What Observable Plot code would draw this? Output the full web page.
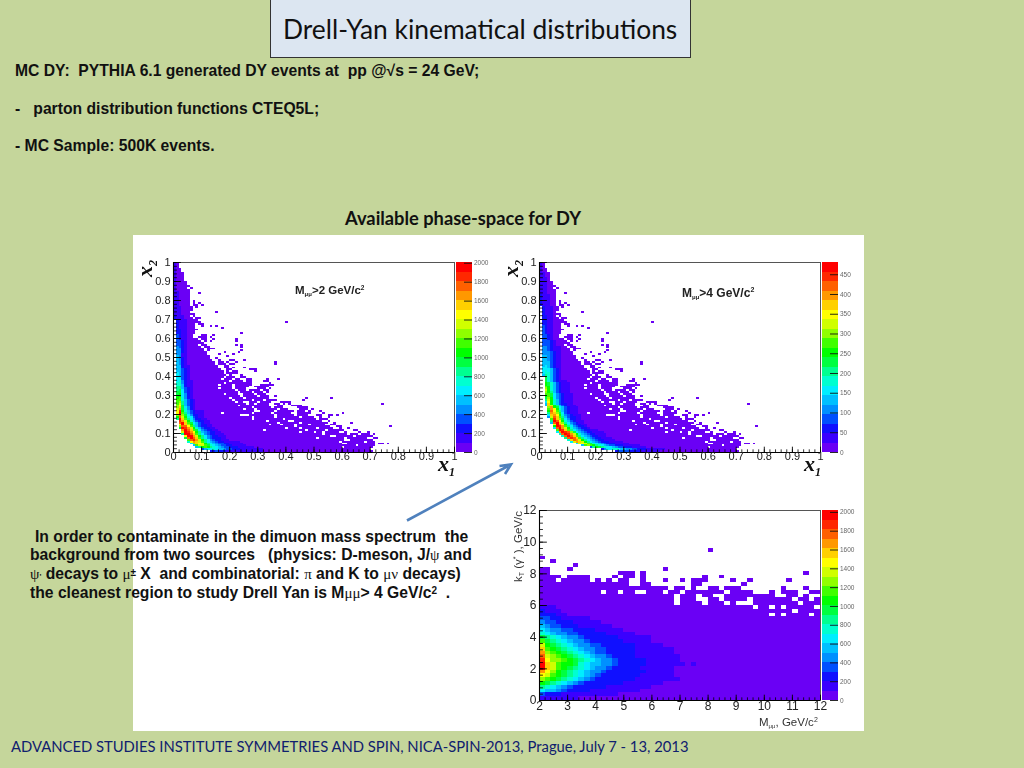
<!DOCTYPE html>
<html><head><meta charset="utf-8">
<script src="https://cdn.jsdelivr.net/npm/d3@7"></script>
<script src="https://cdn.jsdelivr.net/npm/@observablehq/plot@0.6"></script>
<style>
html,body{margin:0;padding:0;background:#c5d69b;}
#page{position:relative;width:1024px;height:768px;overflow:hidden;background:#c5d69b;}
.abs{position:absolute;white-space:pre;}
.b{font:bold 15.7px "Liberation Sans",Arial,sans-serif;color:#111;}
.g{font-family:"Liberation Serif",serif;font-weight:normal;font-size:15px;color:#111;}
#panel{position:absolute;left:133px;top:235px;width:731px;height:496px;background:#fff;}
.plot{position:absolute;filter:blur(.35px);}
.ax{position:absolute;white-space:pre;font-family:"Liberation Sans",Arial,sans-serif;filter:blur(.3px);}
.xv{font:italic bold 22px "Liberation Serif",serif;color:#111;}
.xv sub{font-size:12px;vertical-align:-5px;line-height:0;}
</style></head><body><div id="page">
<div id="panel"></div>
</div>
<script>
// ---- data: colour levels -------------------------------------------------
const paletteColors = ["#6a00f5","#3a00ff","#1010ff","#0050ff","#0090ff","#00c0ff","#00eeff","#00ffd0","#00ff90","#00ff40","#00ff00","#40ff00","#90ff00","#d0ff00","#ffff00","#ffd000","#ff9800","#ff6000","#ff2800","#ff0000"];
const levelIds = paletteColors.map((_, i) => i);
const barTicksA = [0,200,400,600,800,1000,1200,1400,1600,1800,2000];
const barTicksB = [0,50,100,150,200,250,300,350,400,450];
const unitTicks = [0,0.1,0.2,0.3,0.4,0.5,0.6,0.7,0.8,0.9,1];
const massTicks = [2,3,4,5,6,7,8,9,10,11,12];
const ktTicks = [0,2,4,6,8,10,12];

// occupied x1 bins for each x2 bin, row 99 (top) down to row 0
const occupiedX = ["0-1","0-1","0-1","0-2","0-2","0-3","0-3","0-3","0-3","0-3","0-4","0-4","0-5","0-4 6","0-5","0-5","0-5 9","0-5","0-5","0-5",
"0-5 7","0-5 7 9","0-5 7-8 10","0-6 8","0-6","0-6","0-5 15","0-7","0-5 7","0-6 8-9","0-8","0-9 40","0-7 9-10","0-7 10 13 15","0-7 17","0-8","0-7","0-7 24","0-6 10-11 14","0-6 9-11 13",
"0-8 10-11 14 22","0-9 11 13 22","0-10","0-8 10-11 22 24","0-9 11-12 24","0-10 12 13-14","0-10 12 24","0-11 18 23","0-11 16 21","0-12 19","0-12 15","0-13 16 20-21 25","0-14 16-17 19 22 36","0-14 16-18 20-21 36","0-15 18-19","0-15 18-19 21 25","0-16 19-20 27-29","0-17 19 21-22 29","0-17 19-22","0-18 20 24",
"0-17 19-21 24-25","0-16 18-20 22-23 26-27 33 37","0-18 19 21-24 26-27 32-33","0-17 19-25 26-27 34","0-15 17-20 22-27 31-35","0-20 22-26 29-33","0-15 17-20 22-25 30-32 34","0-21 23-25 27-30 32-33","0-22 24-27 29-31 33","0-17 19-22 25-28 30-32",
"0-23 25-29 31-33 36","0-19 21-24 26-30 31-33 47 56","0-20 22-27 29-31 33-36 46","0-21 23-24 27-29 31-34 38-41","0-25 27-28 30-33 36-37 39 41 74","0-22 24-26 27-30 31-33 37-38 42-45","0-27 29-34 36-38 44-47","0-24 26-28 30-36 38-40 45-47 49","0-28 31-35 37-42 44-46 48 52","0-16 18-27 29-34 36-41 44-48 53 60",
"0-23 27-35 37-42 44-47 51-52 55-56 58","0-27 29-35 37-44 46-49 52 55","0-27 29-38 40-50 52-54","0-32 34-40 43-52 55","0-36 38-44 46-54 57 63","0-33 35-37 39-42 44-47 49-53 56-57","0-42 44-55 58-59 77","0-39 41-44 46-50 52-56 59 62","0-31 33-46 48-53 55-60 64-65","0-44 46-49 51-52 54-58 61 66 69",
"0-52 54-61 63-65 67-69 71","0-55 58-63 65-70","0-50 52-60 62-68 71-72","0-60 63-69 70","0-58 60-67 69-71","0-59 62-71 73-74 76","0-64 66-71","0-59 61-70","0-66 67-69","0-70"];

// colour level per x1 bin, row 0 upward ("." empty, 0-9 a-j; past the end: level 0). M > 2
const levelsM2 = [
".............2232221111111111111",
"..........3566765543322211111111",
"........58aba8765433222111111",
".......5bddb97654332211111",
"......6cfeda8654332211111",
".....7egfdb8654322111111",
".....bhigda864322111",
"....9hjhfb864322211",
"....ejjgda864322111",
"...8jjhfb864322111",
"...djigea85432211",
"...gjhfb96432211",
"..9jigda7532211",
"..chheb8532211",
"..ejfca7532211",
"..hjfb9653211",
"..igda7532211",
".8jfb8642211",
".ahda763211",
".chc9642211",
".ejb8532111",
".eia7532111",".dg97421",".cf96421",".ce95321",".bd85321",".bc85321",".bb75321",".ab7421",".aa6421",
".9a6421",".996321",".896321",".885321",".885211",".775211",".774211",".674211",".66321",".66321",
".65321",".65321",".55321",".55321",".55211",".55211",".5421",".5421",".5421",".5421",
".5411",".4411",".4421",".4421",".4421",".4321",".3321",".3321",".3321",".3211",
".3211",".3211",".2211",".2211",".2211",".2111",".2111",".2111",".2111",".2111",
"2111","2111","111","111","111","111","111","11","11","11",
"11","11","11","11","11","1","1","1","1","1",
"1","1","1","1","1","1","1","1","1","1"];

// M > 4
const levelsM4 = [
"...........................2333322221111111",
"......................24667765544332221111111",
"..................38a98766543322211111",
"...............5bcba8765433222111111",
".............6dedb97654322211111",
"...........6dgfda8654322211111",
"..........7fhgda86543221111",
".........8hihfb86543221111",
"........7hjhfb8654322111",
".......7hjigda7543221111",
"......6gjihc96543221111",
"......bjifb8654322111",
".....6hjgda7543221",
".....ajigb8643221",
".....ejgea7532211",
"....5hjfc8643211",
"....8jhea7532111",
"....bifc9642211",
"...4dhfb8532211",
"...6fgea7432111",
"...8gfc9632111",
"...aheb8532111","...bgea7532111","...cga96532111","..5fda8532111","..5fa7532211","..6ea7532111","..8da7532111","..9ca6432111","..ab96432111",
"..bb96432111","..ca8532111","..da7532111","..ca7532111","..ba7532111","..a97532111","..a97532111","..97532111","..975321","..975321",
".5875321",".6775321",".6765321",".6665321",".6653211",".5653211",".5553211",".5553211",".5543211",".5543211",
".5543211",".4443211",".4443211",".4432111",".4432111",".4432111",".33321",".33321",".33321",".3321",
".3321",".3321",".3211",".3211",".3211",".3211",".3211",".2211",".2211",".2211",
".2211",".2211",".2111",".2111",".2111",".2111",".2111","2111","2111","2111",
"2111","2111","2111","111","111","111","111","111","111","111",
"111","111","11","11","11","1","1","1","1","1"];

// kT vs mass: occupied mass bins, row 39 down to row 22
const occupiedKt = ["30","","0","2","6","0-1 5 22","0-1 14-16 18 47","0-3 5-8 13 15-16 18 29 32","0-2 4-8 10 12 14-15 18 22 25 27-29 34 37 44","0-15 18-19 27-28 36","0-18 19-22 24-25 27 30-31 33-35 43 47","0-10 12-13 15-16 19-21 23-24 26-32 34-37 41 43-45 48-49","0-23 25-27 29-30 33-41 44-45 47","0-23 25-27 30-31 33-36 38-44 46-47 49","0-23 25-28 30-32 34 38-45 47-49","0-37 39-40 42 44-48","0-44 46-49","0-40 42 44-47 49"];
// kT vs mass: colour levels per mass bin, row 0 upward; past the end: level 0
const levelsKt = [
"1111111",
"32221111111111",
"655432222111111111",
"87654322222211111111",
"a987654322222221111111",
"cba9876543222222211111111",
"edba98765432222222111111",
"geca98765443222222211111",
"jfdba9876544322222111111",
"jfdbaa9765544322222111111101",
"ieccba9876544322222111111",
"hdcba98765443222211111111",
"gcba98765433222221111111",
"fba987654433222221111111",
"da98765443322222211111",
"b9876544322222211111",
"98765443222222111111",
"76544332222211111",
"654433222211111",
"5433222111111",
"43322211111",
"332211111",
"22211",
"2111",
"111"];

// ---- decoding ------------------------------------------------------------
const inRuns = (runs, c) => runs.split(" ").filter(Boolean).some(s => {
  const [a, b = a] = s.split("-").map(Number); return c >= a && c <= b;
});
function cellsFrom(levels, occupied, topRow, nCols, x0, dx, dy) {
  const out = [];
  for (let i = topRow; i >= 0; i--) {
    const runs = occupied[topRow - i] ?? null;
    const s = levels[i] ?? "";
    for (let c = 0; c < nCols; c++) {
      if (runs !== null && !inRuns(runs, c)) continue;
      const ch = s[c];
      if (ch === ".") continue;
      out.push({x1: x0 + c * dx, x2: x0 + (c + 1) * dx, y1: i * dy, y2: (i + 1) * dy, level: ch ? parseInt(ch, 36) : 0});
    }
  }
  return out;
}
const colorScale = {type: "ordinal", domain: levelIds, range: paletteColors};
const page = document.getElementById("page");
function place(svg, left, top) {
  svg.classList.add("plot");
  svg.style.left = left + "px"; svg.style.top = top + "px";
  svg.style.position = "absolute";
  page.appendChild(svg);
}
function heat({cells, xDomain, yDomain, xTicks, yTicks, xMinor, yMinor, xLabels, yLabels, left, top, w, h, fs, xLen, yLen, xPad, yPad}) {
  const mL = 30, mR = 6, mT = 8, mB = 24;
  const xSpan = xDomain[1] - xDomain[0], ySpan = yDomain[1] - yDomain[0];
  const svg = Plot.plot({
    width: w + mL + mR, height: h + mT + mB,
    marginLeft: mL, marginRight: mR, marginTop: mT, marginBottom: mB,
    style: {background: "transparent", overflow: "visible", fontFamily: "Liberation Sans, Arial, sans-serif"},
    x: {domain: xDomain}, y: {domain: yDomain}, color: colorScale,
    marks: [
      Plot.rect(cells, {x1: "x1", x2: "x2", y1: "y1", y2: "y2", fill: "level", shapeRendering: "crispEdges"}),
      Plot.frame({stroke: "#555", strokeWidth: 1}),
      Plot.ruleX(xMinor, {y1: yDomain[0], y2: yDomain[0] + ySpan * xLen / 2, stroke: "#000", strokeWidth: .8}),
      Plot.ruleX(xTicks, {y1: yDomain[0], y2: yDomain[0] + ySpan * xLen, stroke: "#000", strokeWidth: .9}),
      Plot.ruleY(yMinor, {x1: xDomain[0], x2: xDomain[0] + xSpan * yLen / 2, stroke: "#000", strokeWidth: .8}),
      Plot.ruleY(yTicks, {x1: xDomain[0], x2: xDomain[0] + xSpan * yLen, stroke: "#000", strokeWidth: .9}),
      Plot.ruleX([xDomain[0]], {stroke: "#000", strokeWidth: 1.1}),
      Plot.ruleY([yDomain[0]], {stroke: "#000", strokeWidth: 1.1}),
      Plot.axisX({ticks: xLabels, tickSize: 0, tickPadding: xPad, fontSize: fs, fill: "#222", label: null, tickFormat: d => String(d)}),
      Plot.axisY({ticks: yLabels, tickSize: 0, tickPadding: yPad, fontSize: fs, fill: "#222", label: null, tickFormat: d => String(d)})
    ]
  });
  place(svg, left - mL, top - mT);
}
function colorBar({top: topEdge, left, h, maxV, ticks}) {
  const step = maxV / 20, w = 16;
  const rows = levelIds.map(i => ({y1: i * step, y2: (i + 1) * step, level: i}));
  const svg = Plot.plot({
    width: w + 24, height: h + 8, marginLeft: 0, marginRight: 24, marginTop: 4, marginBottom: 4,
    style: {background: "transparent", overflow: "visible", fontFamily: "Liberation Sans, Arial, sans-serif"},
    x: {domain: [0, 1]}, y: {domain: [0, maxV]}, color: colorScale,
    marks: [
      Plot.rect(rows, {x1: 0, x2: 1, y1: "y1", y2: "y2", fill: "level", shapeRendering: "crispEdges"}),
      Plot.ruleY(ticks, {x1: 0.5, x2: 1, stroke: "#111", strokeWidth: .9}),
      Plot.axisX({ticks: [], label: null, tickSize: 0}),
      Plot.axisY({anchor: "right", ticks, tickSize: 0, tickPadding: 1.5, fontSize: 6.5, fill: "#666", label: null, tickFormat: d => String(d)})
    ]
  });
  place(svg, left, topEdge - 4);
}
const fineX = d3.range(0, 1.001, 0.02), fineM = d3.range(2, 12.001, 0.2), fineK = d3.range(0, 12.001, 0.4);
const cellsA = cellsFrom(levelsM2, occupiedX, 99, 100, 0, 0.01, 0.01);
const cellsB = cellsFrom(levelsM4, occupiedX, 99, 100, 0, 0.01, 0.01);
const ktCells = cellsFrom(levelsKt, occupiedKt, 39, 50, 2, 0.2, 0.24);
const kBase = {xDomain: [0, 1], yDomain: [0, 1], xTicks: unitTicks, yTicks: unitTicks, xMinor: fineX, yMinor: fineX, xLabels: unitTicks, yLabels: unitTicks, w: 281, h: 190, fs: 11, xLen: 0.028, yLen: 0.028, xPad: 0, yPad: 3};
heat({...kBase, cells: cellsA, left: 173, top: 262});
heat({...kBase, cells: cellsB, left: 539, top: 262});
heat({cells: ktCells, xDomain: [2, 12], yDomain: [0, 12], xTicks: massTicks, yTicks: ktTicks, xMinor: fineM, yMinor: fineK, xLabels: massTicks, yLabels: ktTicks, left: 539, top: 510, w: 281, h: 190, fs: 12, xLen: 0.028, yLen: 0.028, xPad: 1, yPad: 3});
colorBar({top: 262, left: 456, h: 190, maxV: 2008, ticks: barTicksA});
colorBar({top: 262, left: 822, h: 190, maxV: 481, ticks: barTicksB});
colorBar({top: 510, left: 822, h: 190, maxV: 2020, ticks: barTicksA});

// ---- slide text ----------------------------------------------------------
function addHTML(html) { page.insertAdjacentHTML("beforeend", html); }
addHTML(`<div class="abs" style="left:270px;top:-1px;width:419px;height:57px;background:#dce6f1;border:1px solid #333;box-sizing:content-box;"></div>
<div class="abs" style="left:283px;top:13px;font:26.4px Lato,'Open Sans',sans-serif;color:#111;">Drell-Yan kinematical distributions</div>
<div class="abs b" style="left:15px;top:62px;">MC DY:  PYTHIA 6.1 generated DY events at  pp @√s = 24 GeV;</div>
<div class="abs b" style="left:15px;top:100px;">-   parton distribution functions CTEQ5L;</div>
<div class="abs b" style="left:15px;top:137px;">- MC Sample: 500K events.</div>
<div class="abs" style="left:345px;top:207px;font:bold 18.3px Lato,'Open Sans',sans-serif;color:#111;">Available phase-space for DY</div>
<div class="abs b" style="left:35px;top:528px;">In order to contaminate in the dimuon mass spectrum  the</div>
<div class="abs b" style="left:30px;top:546px;">background from two sources   (physics: D-meson, J/<span class="g">ψ</span> and</div>
<div class="abs b" style="left:30px;top:565px;"><span class="g">ψ</span><span style="font-size:8px;">'</span> decays to <span class="g">μ</span><span style="font-size:10px;vertical-align:3px;">±</span> X  and combinatorial: <span class="g">π</span> and K to <span class="g">μν</span> decays)</div>
<div class="abs b" style="left:30px;top:584px;">the cleanest region to study Drell Yan is M<span class="g">μμ</span>&gt; 4 GeV/c<span style="font-size:10px;vertical-align:4px;">2</span>  .</div>
<div class="abs" style="left:11px;top:737px;font:14.8px Lato,'Open Sans',sans-serif;color:#10206e;">ADVANCED STUDIES INSTITUTE SYMMETRIES AND SPIN, NICA-SPIN-2013, Prague, July 7 - 13, 2013</div>
<svg style="position:absolute;left:0;top:0;width:1024px;height:768px;pointer-events:none;" viewBox="0 0 1024 768"><path d="M407 520.5L510 465M499.5 466L511 464.5L505 474" fill="none" stroke="#4f81bd" stroke-width="2.6"/></svg>
<div class="ax xv" style="left:438px;top:451px;">x<sub>1</sub></div>
<div class="ax xv" style="left:804px;top:451px;">x<sub>1</sub></div>
<div class="ax xv" style="left:132px;top:257px;transform:rotate(-90deg);transform-origin:10px 10px;">x<sub>2</sub></div>
<div class="ax xv" style="left:498px;top:257px;transform:rotate(-90deg);transform-origin:10px 10px;">x<sub>2</sub></div>
<div class="ax" style="left:295px;top:284px;font-size:11.5px;font-weight:bold;color:#222;">M<span style="font-size:6px;vertical-align:-2px;">μμ</span>&gt;2 GeV/c<span style="font-size:6.5px;vertical-align:4px;">2</span></div>
<div class="ax" style="left:682px;top:286px;font-size:12px;font-weight:bold;color:#222;">M<span style="font-size:6px;vertical-align:-2px;">μμ</span>&gt;4 GeV/c<span style="font-size:7px;vertical-align:5px;">2</span></div>
<div class="ax" style="left:759px;top:714px;font-size:11.5px;line-height:11px;color:#333;">M<span style="font-size:6px;vertical-align:-2px;">μμ</span>, GeV/c<span style="font-size:7px;vertical-align:4px;">2</span></div>
<div class="ax" style="left:512px;top:582px;font-size:11.5px;color:#333;transform:rotate(-90deg);transform-origin:0 0;">k<span style="font-size:7px;vertical-align:-2px;">T</span> (γ<span style="font-size:7px;vertical-align:4px;">*</span> ), GeV/c</div>`);
</script></body></html>
